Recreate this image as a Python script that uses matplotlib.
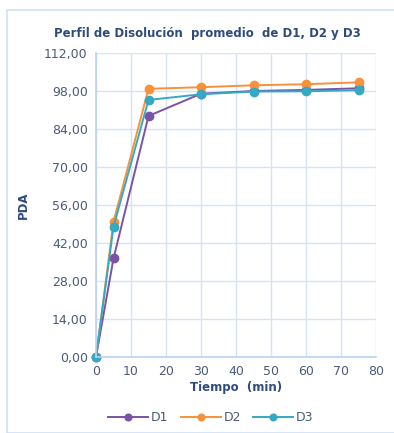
import matplotlib.pyplot as plt
from matplotlib.patches import Rectangle
from matplotlib.ticker import FuncFormatter

# tiempos de muestreo (min) y % disuelto promedio
tiempo = [0, 5, 15, 30, 45, 60, 75]
d1 = [0.0, 36.3, 88.8, 97.0, 98.0, 98.4, 99.0]
d2 = [0.0, 49.8, 98.8, 99.4, 100.1, 100.5, 101.2]
d3 = [0.0, 48.0, 94.7, 96.8, 97.8, 97.9, 98.3]

COL = {"D1": "#7B52A5", "D2": "#F7923A", "D3": "#33A9C6"}
GRID = "#D5E3F6"
TXT = "#4A5A78"
NAVY = "#2F4B7C"

fig = plt.figure(figsize=(3.94, 4.33), dpi=100)
fig.patches.append(Rectangle((7 / 394, 0.0), 1.0, 1 - 10 / 433, transform=fig.transFigure,
                             fill=False, edgecolor="#CFE0F5", lw=1.2))
ax = fig.add_axes([96 / 394, 76 / 433, 280 / 394, 304 / 433])

for name, vals in (("D1", d1), ("D2", d2), ("D3", d3)):
    ax.plot(tiempo, vals, "-o", color=COL[name], lw=1.4, ms=6, label=name)

ax.set_xlim(0, 80)
ax.set_ylim(0, 112)
ax.set_xticks(range(0, 81, 10))
ax.set_yticks(range(0, 113, 14))
ax.yaxis.set_major_formatter(FuncFormatter(lambda v, p: f"{v:.2f}".replace(".", ",")))
ax.grid(True, color=GRID, lw=1.0)
ax.set_axisbelow(True)
for s in ("top", "right"):
    ax.spines[s].set_visible(False)
for s in ("left", "bottom"):
    ax.spines[s].set_color("#BBD2F0")
    ax.spines[s].set_linewidth(1.2)
ax.tick_params(length=0, labelsize=9, colors=TXT, pad=6)
for m in ax.lines:
    m.set_clip_on(False)

fig.text(207 / 394, 1 - 33 / 433, "Perfil de Disolución  promedio  de D1, D2 y D3",
         fontsize=8.5, fontweight="bold", color=NAVY, ha="center", va="center")
ax.set_xlabel("Tiempo  (min)", fontsize=8.5, fontweight="bold", color=NAVY, labelpad=2)
ax.set_ylabel("PDA", fontsize=8.5, fontweight="bold", color=NAVY, labelpad=10)

fig.legend(loc="lower center", bbox_to_anchor=(0.535, -0.005), ncol=3, frameon=False,
           fontsize=9, handlelength=3.2, columnspacing=1.0, handletextpad=0.2,
           markerscale=0.8, labelcolor=TXT)

fig.savefig("out.png", dpi=100)
